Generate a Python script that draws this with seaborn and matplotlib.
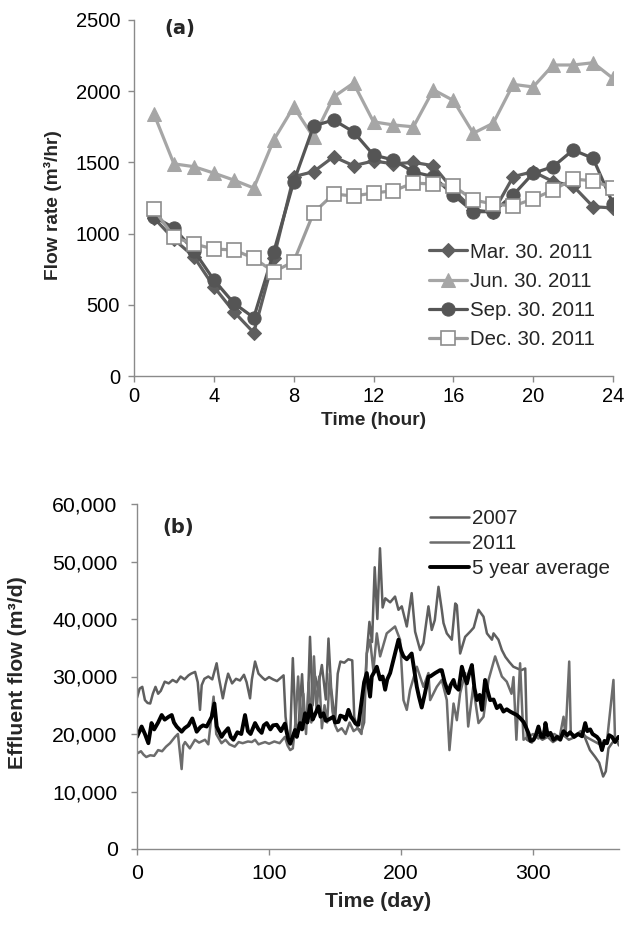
import numpy as np
import pandas as pd
import matplotlib
matplotlib.use("Agg")
import matplotlib.pyplot as plt
from matplotlib.ticker import FuncFormatter
import seaborn as sns

# ---------------- data: panel (a) ----------------
hours = list(range(1, 25))
mar_2011 = [1110, 960, 838, 627, 452, 304, 828, 1400, 1435, 1540, 1477, 1510,
            1490, 1500, 1477, 1306, 1166, 1150, 1400, 1435, 1365, 1335, 1189, 1180]
jun_2011 = [1840, 1490, 1470, 1425, 1376, 1320, 1657, 1890, 1675, 1960, 2057, 1785,
            1763, 1750, 2010, 1935, 1705, 1775, 2048, 2030, 2184, 2184, 2200, 2090]
sep_2011 = [1120, 1039, 880, 675, 512, 410, 870, 1363, 1756, 1798, 1714, 1552,
            1517, 1433, 1400, 1271, 1154, 1154, 1271, 1424, 1470, 1587, 1529, 1210]
dec_2011 = [1170, 976, 927, 892, 885, 828, 732, 803, 1147, 1278, 1264, 1285,
            1301, 1355, 1348, 1335, 1236, 1208, 1194, 1243, 1306, 1383, 1371, 1320]
labels_a = ["Mar. 30. 2011", "Jun. 30. 2011", "Sep. 30. 2011", "Dec. 30. 2011"]

# ---------------- data: panel (b) ----------------
days_2007 = [0, 2, 4, 6, 8, 10, 12, 14, 16, 18, 21, 24, 27, 30, 33, 36, 39, 41, 44, 46,
             47.7, 49, 51, 54, 57, 60.3, 62, 65, 67, 69, 72, 75, 78, 81, 83, 85.6, 87, 89.4,
             92, 95, 97, 100, 103, 106, 109, 111, 112.5, 114, 116, 118, 120, 122, 125, 127,
             129, 131, 133, 135, 137, 140, 143, 145, 147, 150, 152, 154, 157, 160, 163,
             164.5, 167, 170, 172, 174, 176, 178, 180, 182, 184, 186, 188, 191.7, 195.4,
             198, 200.5, 204.3, 208, 210.6, 214.4, 216.9, 220.7, 223.2, 225.5, 228.3, 230.8,
             232.1, 234.6, 238.4, 241, 242.2, 244.7, 248.5, 252.3, 255, 258.6, 262.4, 265,
             268.8, 270, 273.7, 276.3, 279, 282, 285, 288, 291, 294, 295.3, 299, 303, 307,
             311, 315, 319, 323, 327, 331, 335, 339, 343, 347, 350, 353, 355, 357, 360,
             363, 365]
flow_2007 = [26300, 27900, 28200, 25900, 25400, 25300, 27000, 28200, 27000, 27500, 29100,
             28800, 29400, 29000, 30000, 29500, 30200, 30500, 30800, 29000, 24200, 28500,
             29600, 30000, 29500, 32300, 29800, 26200, 28600, 30500, 28800, 29600, 29300,
             30300, 29000, 26200, 29500, 32600, 30500, 29800, 29400, 29900, 29500, 29200,
             29800, 30200, 23000, 20100, 19500, 33200, 22000, 20400, 30400, 21000, 22500,
             36900, 25000, 30000, 28000, 32000, 26000, 36600, 28000, 22000, 30500, 32600,
             32400, 33000, 32800, 23000, 21000, 20500, 22000, 34000, 39500, 36000, 49000,
             40000, 52300, 42000, 43600, 42900, 43900, 41600, 42200, 38700, 44500, 37800,
             34600, 35800, 42200, 38100, 39800, 45600, 41600, 39300, 37500, 36400, 42700,
             42400, 34000, 36900, 37800, 38500, 41600, 40400, 37500, 36400, 37500, 36400,
             34600, 33400, 32500, 31700, 31400, 31100, 31400, 19000, 18500, 19800, 19000,
             19500, 18600, 19200, 19800, 19000, 19400, 20000, 19500, 17200, 16000, 15000,
             12600, 13500, 17500, 18500, 19000, 18000]

days_2011 = [0, 3, 5, 7, 10, 13, 16, 19, 22, 25, 28.8, 31, 33.8, 35, 36.4, 40, 43.9, 47,
             51.5, 54, 58, 60, 64, 67, 70, 74, 77, 80, 84, 87, 89.4, 92, 94.4, 97, 100, 104,
             108, 112, 114, 116, 118, 120, 122, 124, 126, 128, 130, 132, 134, 136, 138, 140,
             142, 144, 146, 148, 150, 152, 155, 158, 161, 164, 167, 170, 172, 174, 176.5,
             179, 181.6, 184.1, 189.1, 195.4, 199.2, 201.8, 204.3, 206.8, 211.9, 216.9,
             220.7, 222, 227, 230.8, 234.6, 236.6, 239.7, 242.2, 244.7, 248.5, 250.8, 254.6,
             258.6, 262.4, 266.2, 271.2, 276.3, 280, 283.6, 285.1, 287.3, 290.1, 292.7, 296,
             300, 304, 308, 312, 316, 320, 323, 324.5, 327.3, 328.5, 332, 336, 340, 344,
             348, 352, 356, 360.8, 362, 365]
flow_2011 = [16600, 17000, 16400, 16000, 16300, 16200, 17200, 17000, 17800, 18400, 19500,
             20000, 13900, 18000, 18600, 17500, 19000, 18500, 19000, 18200, 26500, 20000,
             18400, 19000, 18200, 17800, 18600, 18400, 18700, 18600, 19000, 18200, 18400,
             18600, 18300, 18700, 18400, 19500, 18000, 17200, 17500, 22000, 30000, 21000,
             27000, 20000, 29000, 22000, 33500, 24000, 30000, 21000, 25000, 22000, 30500,
             24000, 21500, 20500, 21000, 20000, 22000, 20500, 21000, 20000, 26000, 34000,
             36400, 31000, 37500, 33500, 37500, 38700, 36400, 25900, 24200, 27700, 31700,
             28200, 30600, 25900, 28200, 29400, 25900, 17200, 25300, 22400, 27100, 30600,
             21300, 28200, 21900, 23000, 29400, 33500, 30000, 29100, 27000, 29900, 19000,
             32300, 19000, 19500, 20000, 19200, 20500, 19500, 20000, 19400, 23000, 19600,
             32600, 20000, 19800, 20500, 19500, 19000, 18500, 18000, 19000, 29400, 19000,
             18500]

days_avg = [0, 2, 3.5, 6, 8.6, 11, 13, 16, 18.7, 21, 24, 26.3, 28, 30, 33.8, 36, 39, 41.9,
            45.2, 48, 50, 52.8, 56.6, 58.6, 60.4, 64, 66, 69, 71, 73, 76, 79, 81.8, 84, 86,
            89.4, 92, 94.4, 96, 98.2, 101, 103, 105.8, 109, 112, 114.6, 116, 119.7, 121,
            123.5, 125, 127.3, 129, 131.1, 133, 135, 137.4, 139, 141.2, 143, 145, 148.7,
            150, 152.5, 154, 156.3, 158, 160.1, 162, 163.9, 165.5, 167.7, 170.2, 172, 174,
            176.5, 177.8, 180.4, 181.6, 184.1, 186, 187.9, 189.5, 191.7, 195.4, 198, 200,
            201.8, 204.3, 208, 210, 211.9, 213.5, 215.6, 218, 220.7, 222, 225.8, 229.5,
            230.8, 233, 235.9, 237.5, 239.7, 241, 243.5, 246, 248, 249.8, 251.5, 253.6,
            255.5, 257.4, 259.5, 261.2, 263.6, 265.5, 267.4, 270, 272.5, 275, 277.5, 280,
            282.6, 285, 287.6, 290, 292.7, 294.5, 296.5, 298, 300.3, 302, 304, 306, 308,
            309.3, 311, 313.1, 315.4, 318.2, 320.5, 323, 325.8, 328, 331, 334, 337, 339.4,
            341, 343.2, 345, 348.3, 350, 352.1, 354, 355.9, 357.5, 359.7, 362, 364.6]
flow_avg = [19500, 20500, 21300, 20000, 18400, 21900, 20800, 22000, 23300, 22500, 23000,
            23300, 22000, 21300, 20400, 21000, 21500, 22700, 20400, 21200, 21500, 21300,
            23000, 25300, 21300, 19500, 20200, 21000, 19500, 19000, 20300, 20000, 23300,
            20500, 20000, 21900, 20800, 20200, 21500, 21900, 20800, 21500, 21600, 20500,
            21800, 19000, 18300, 20700, 19500, 21900, 20800, 23600, 22000, 25000, 22500,
            23500, 24800, 23000, 23600, 22300, 22500, 23000, 22000, 22100, 23200, 23000,
            22500, 24200, 23000, 22400, 21800, 21600, 25900, 29000, 30600, 26500, 30000,
            31100, 31700, 29500, 30000, 27700, 29500, 30600, 34000, 36400, 34500, 33500,
            33000, 34000, 31000, 28200, 26500, 24600, 27000, 30000, 30000, 30600, 31100,
            31100, 29000, 27100, 28500, 29400, 28300, 27700, 31700, 30000, 28800, 30500,
            32000, 28000, 25900, 26800, 24200, 29400, 27500, 25900, 26000, 24500, 25000,
            23900, 24300, 23900, 23600, 23300, 22800, 22100, 21200, 20100, 18800, 19000,
            19800, 21300, 19500, 19500, 21900, 19800, 20200, 19000, 19500, 19000, 20500,
            19800, 20300, 19500, 20000, 19600, 21900, 20500, 20800, 20000, 19500, 19000,
            17200, 18800, 18400, 19800, 19500, 18600, 19500]
labels_b = ["2007", "2011", "5 year average"]

# ---------------- style ----------------
sns.set_style("white")
plt.rcParams["font.family"] = ["Liberation Sans", "DejaVu Sans"]
AX_GREY = "#8a8a8a"
FS_A_TICK, FS_A_LAB, FS_A_LEG = 14.5, 13.8, 14.7
FS_B_TICK, FS_B_LAB, FS_B_LEG = 15.3, 15.3, 14.9

fig = plt.figure(figsize=(6.26, 9.26), dpi=100)
ax1 = fig.add_axes([134/626, 1-376/926, (613-134)/626, (376-20)/926])
ax2 = fig.add_axes([137/626, 1-849/926, (619-137)/626, (849-504)/926])

# panel (a)
lw = 2.3
sns.lineplot(x=hours, y=mar_2011, ax=ax1, color="#5e5e5e", marker="D", markersize=7.5,
             markeredgecolor="#5e5e5e", linewidth=lw, label=labels_a[0])
sns.lineplot(x=hours, y=jun_2011, ax=ax1, color="#a6a6a6", marker="^", markersize=9.5,
             markeredgecolor="#a6a6a6", linewidth=lw, label=labels_a[1])
sns.lineplot(x=hours, y=sep_2011, ax=ax1, color="#555555", marker="o", markersize=9.5,
             markeredgecolor="#555555", linewidth=lw, label=labels_a[2])
sns.lineplot(x=hours, y=dec_2011, ax=ax1, color="#9c9c9c", marker="s", markersize=9.5,
             markerfacecolor="white", markeredgecolor="#8c8c8c", markeredgewidth=1.2,
             linewidth=lw, label=labels_a[3])
ax1.set_xlim(0, 24)
ax1.set_ylim(0, 2500)
ax1.set_xticks(range(0, 25, 4))
ax1.set_yticks(range(0, 2501, 500))
ax1.set_xlabel("Time (hour)", fontsize=FS_A_LAB, fontweight="bold")
ax1.set_ylabel("Flow rate (m³/hr)", fontsize=FS_A_LAB, fontweight="bold")
ax1.xaxis.set_label_coords(0.5, -0.1)
ax1.yaxis.set_label_coords(-0.150, 0.48)
ax1.legend(loc="upper left", bbox_to_anchor=(0.615, 0.375), frameon=False,
           fontsize=FS_A_LEG, handlelength=1.9, handletextpad=0.15, labelspacing=0.5,
           borderpad=0, borderaxespad=0)
ax1.text(0.096, 0.975, "(a)", transform=ax1.transAxes, fontsize=14, fontweight="bold",
         family=["DejaVu Sans"], ha="center", va="center")

# panel (b)
sns.lineplot(x=days_2007, y=flow_2007, ax=ax2, color="#5f5f5f", linewidth=1.8,
             label=labels_b[0])
sns.lineplot(x=days_2011, y=flow_2011, ax=ax2, color="#6c6c6c", linewidth=1.8,
             label=labels_b[1])
sns.lineplot(x=days_avg, y=flow_avg, ax=ax2, color="black", linewidth=2.8,
             label=labels_b[2])
ax2.set_xlim(0, 365)
ax2.set_ylim(0, 60000)
ax2.set_xticks([0, 100, 200, 300])
ax2.set_yticks(range(0, 60001, 10000))
ax2.yaxis.set_major_formatter(FuncFormatter(lambda v, p: f"{int(v):,}"))
ax2.set_xlabel("Time (day)", fontsize=FS_B_LAB, fontweight="bold")
ax2.set_ylabel("Effluent flow (m³/d)", fontsize=FS_B_LAB, fontweight="bold")
ax2.xaxis.set_label_coords(0.5, -0.125)
ax2.yaxis.set_label_coords(-0.228, 0.51)
ax2.legend(loc="upper left", bbox_to_anchor=(0.607, 0.985), frameon=False,
           fontsize=FS_B_LEG, handlelength=1.9, handletextpad=0.15, labelspacing=0.28,
           borderpad=0, borderaxespad=0)
ax2.text(0.085, 0.933, "(b)", transform=ax2.transAxes, fontsize=14, fontweight="bold",
         family=["DejaVu Sans"], ha="center", va="center")

for ax, fs, xpad, ypad in ((ax1, FS_A_TICK, 4, 6), (ax2, FS_B_TICK, 7, 10)):
    for s in ("top", "right"):
        ax.spines[s].set_visible(False)
    for s in ("left", "bottom"):
        ax.spines[s].set_color(AX_GREY)
        ax.spines[s].set_linewidth(1.0)
    ax.tick_params(axis="both", which="major", direction="out", length=4, width=1.0,
                   color=AX_GREY, labelsize=fs, labelcolor="black",
                   left=True, bottom=True)
    ax.tick_params(axis="x", pad=xpad)
    ax.tick_params(axis="y", pad=ypad)
    ax.grid(False)

fig.savefig("out.png", dpi=100)
